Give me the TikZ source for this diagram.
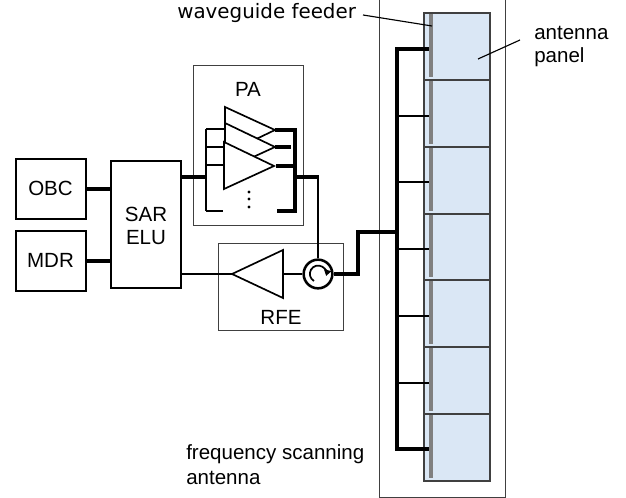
\documentclass[tikz,border=0pt]{standalone}
\usepackage{fontspec}
\usetikzlibrary{arrows.meta}
\setmainfont{Liberation Sans}
\newfontfamily\wgfont{DejaVu Sans}
\definecolor{panelblue}{HTML}{DAE7F5}
\definecolor{feedgrey}{HTML}{808080}
\definecolor{framegrey}{HTML}{404040}
\tikzset{
  x=0.75pt,y=-0.75pt,
  thick line/.style={line width=2.35pt,black},
  mid line/.style={line width=2pt,black},
  thin box/.style={draw=framegrey,line width=0.72pt},
  unit box/.style={draw=black,line width=1.25pt,fill=white,inner sep=0pt},
  amp/.style={draw=black,line width=1.25pt,fill=white,line join=miter},
  lbl/.style={font=\fontsize{15.4pt}{17.6pt}\selectfont,inner sep=0pt,text=black},
  leader/.style={draw=black,line width=0.85pt},
  panel cell/.style={draw=framegrey,line width=1.1pt,fill=panelblue},
  feed bar/.style={fill=feedgrey,draw=none},
}
\begin{document}
\begin{tikzpicture}
\useasboundingbox (0,0) rectangle (626,498);
% antenna frame
\draw[thin box] (379,-5) -- (379,497) -- (505,497) -- (505,-5);
% panels
\foreach \a/\b in {13/80,80/147,147/214,214/280,280/347,347/414,414/481}{
  \draw[panel cell] (424,\a) rectangle (490,\b);
  \fill[feed bar] (428.8,\a+1.5) rectangle (433.4,\b-3);
}
% feed tree
\coordinate (feedtop) at (397,49);
\coordinate (feedbot) at (397,449);
\draw[thick line,line join=miter] (429,49) -- (feedtop) -- (feedbot) -- (429,449);
\foreach \y in {116,182,249,316,383}{\coordinate (br\y) at (397,\y); \draw[mid line] (br\y) -- (429,\y);}
% boxes
\node[thin box,minimum width=82.5pt,minimum height=120pt,inner sep=0pt] (pabox) at (248,145) {};
\node[thin box,minimum width=93.75pt,minimum height=65.25pt,inner sep=0pt] (rfebox) at (280.5,286.5) {};
\node[lbl,anchor=base] (palabel) at (248,97) {PA};
\node[lbl,anchor=base] (rfelabel) at (281,325) {RFE};
\node[unit box,minimum width=52.5pt,minimum height=45pt] (obc) at (51,189) {};
\node[unit box,minimum width=52.5pt,minimum height=45pt] (mdr) at (51,261) {};
\node[unit box,minimum width=52.5pt,minimum height=95.25pt] (elu) at (146,224.5) {};
\node[lbl,anchor=base] (obct) at (50.5,196) {OBC};
\node[lbl,anchor=base] (mdrt) at (50.5,268) {MDR};
\node[lbl,anchor=base] (elut1) at (146,222) {SAR};
\node[lbl,anchor=base] (elut2) at (146,245) {ELU};
\draw[thick line] (obc.east) -- (elu.west |- obc.east);
\draw[thick line] (mdr.east) -- (elu.west |- mdr.east);
% PA internals
\coordinate (pain) at (206,177);
\coordinate (paout) at (295,177);
\draw[line width=1.5pt] (206,211) -- (206,129);
\draw[line width=1.5pt] (206,129) -- (225,129) (206,147) -- (225,147) (206,165) -- (225,165);
\draw[line width=1.5pt] (205.5,211) -- (223,211);
\draw[thick line] (elu.east |- pain) -- (pain);
\draw[amp] (225,107) -- (275,130) -- (225,154) -- cycle;
\draw[amp] (225,123) -- (275,147) -- (225,170) -- cycle;
\draw[amp] (224,142) -- (274,166) -- (224,189) -- cycle;
\draw[thick line] (275,130) -- (293,130) (275,147) -- (291,147) (276,166) -- (293,166);
\draw[thick line,line join=miter] (292,130) -- (295,130) -- (295,211) -- (277,211);
\draw[thick line] (paout) -- (319,177);
\foreach \y in {192,199,207}{\fill (249,\y) circle (1.7);}
% RFE internals
\node[circle,draw=black,line width=1.9pt,fill=white,minimum size=21.5pt,inner sep=0pt] (circ) at (318,274) {};
\draw[line width=1.4pt] (318,177) -- (circ.north);
\draw[line width=1.3pt,-{Triangle[length=4.5pt,width=5.5pt]}] (314,281) arc[start angle=240,end angle=-15,radius=6.2pt];
\draw[amp] (232,274) -- (283,250) -- (283,298) -- cycle;
\coordinate (amptip) at (232,274);
\coordinate (ampbase) at (283,274);
\draw[mid line] (elu.east |- amptip) -- (amptip);
\draw[mid line] (ampbase) -- (circ.west);
\draw[thick line,line join=miter] (circ.east) -- (358,274) -- (358,232) -- (397,232);
% labels
\node[lbl,anchor=base west,font=\wgfont\fontsize{14.9pt}{16pt}\selectfont] (wg) at (177,18.5) {waveguide feeder};
\node[lbl,anchor=base west] (ap1) at (534,40) {antenna};
\node[lbl,anchor=base west] (ap2) at (534,63) {panel};
\node[lbl,anchor=base west] (fs1) at (186,460) {frequency scanning};
\node[lbl,anchor=base west] (fs2) at (186,485) {antenna};
\coordinate (wgend) at (432,26);
\coordinate (apend) at (478,59);
\draw[leader] (363,15) -- (wgend);
\draw[leader] (520,40) -- (apend);
\end{tikzpicture}
\end{document}
